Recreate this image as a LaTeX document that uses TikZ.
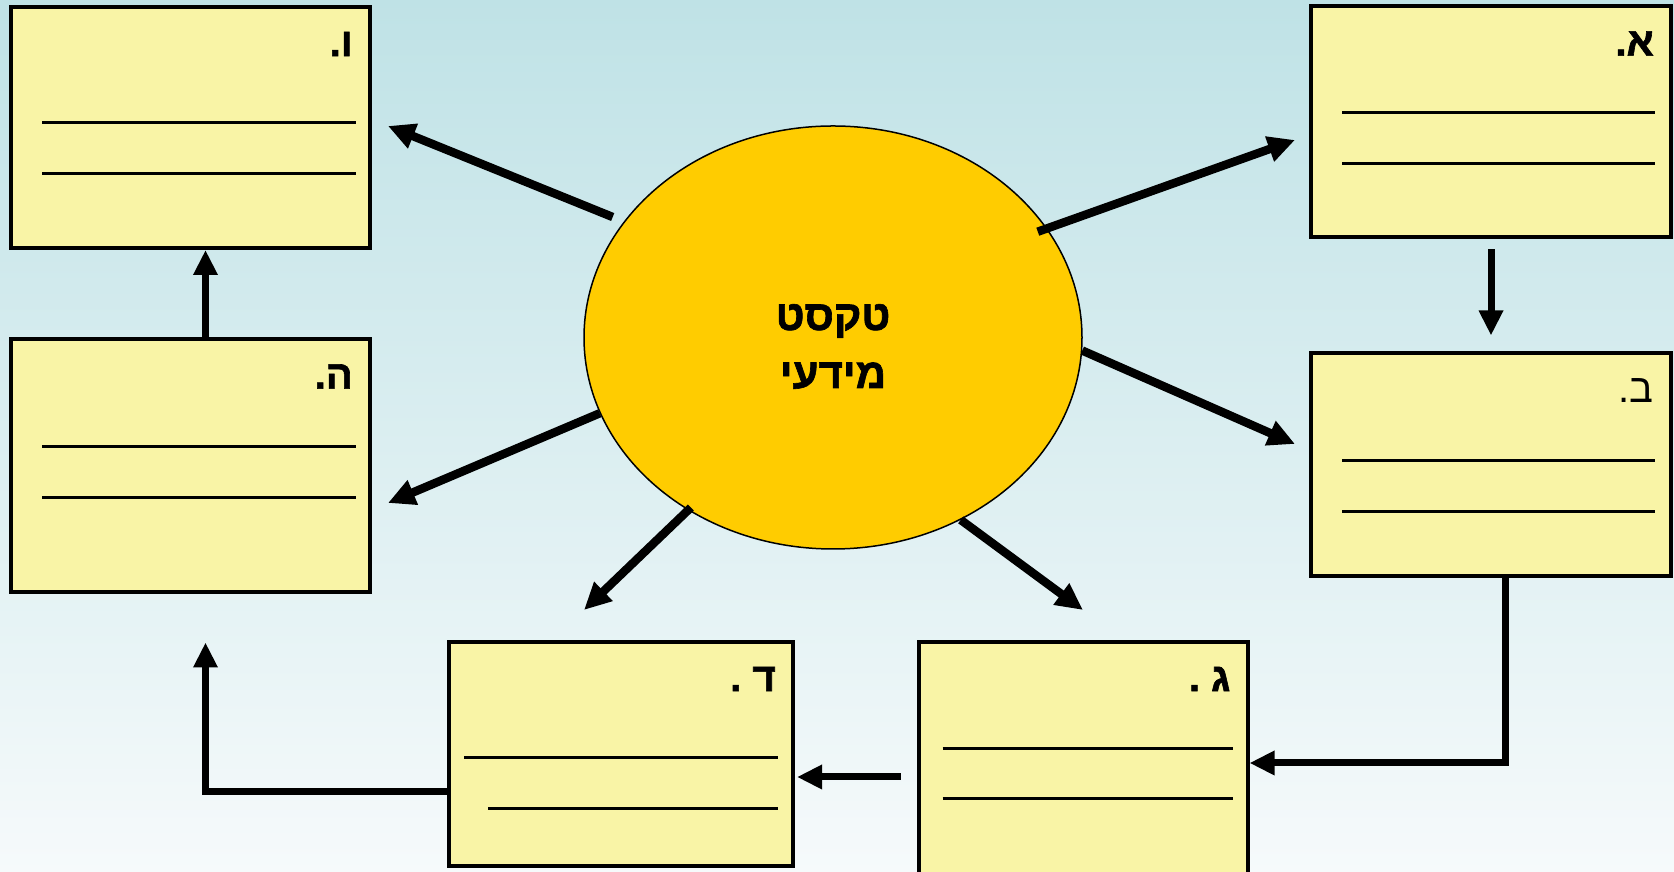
\documentclass[tikz,border=0pt]{standalone}
\usepackage{fontspec}
\setmainfont{Liberation Sans}
\newfontfamily\hebfont[Script=Hebrew, BoldFeatures={FakeBold=1.5}]{Liberation Sans}
\TeXXeTstate=1
\usetikzlibrary{arrows.meta, shapes.geometric}
\definecolor{sky top}{RGB}{191,226,230}
\definecolor{sky bottom}{RGB}{246,250,251}
\definecolor{card area}{RGB}{249,244,166}
\definecolor{sun area}{RGB}{255,204,0}
\tikzset{
  card/.style={draw, fill=card area, line width=4pt, inner sep=0pt},
  sun/.style={ellipse, draw, fill=sun area, line width=1.5pt, inner sep=0pt},
  tag/.style={anchor=east, inner sep=0pt, font=\hebfont\bfseries\fontsize{40}{40}\selectfont},
  writeline/.style={line width=3pt},
  edge/.style={-{Triangle[length=25pt,width=23pt]}, line width=7pt},
  ray/.style={-{Triangle[length=27pt,width=25pt]}, line width=8.5pt}
}

\begin{document}
\begin{tikzpicture}[x=1pt,y=1pt]
    \shade[top color=sky top, bottom color=sky bottom] (0,0) rectangle (1674,872);
    \useasboundingbox (0,0) rectangle (1674,872);
    \clip (0,0) rectangle (1674,872);
    \node[card, minimum width=359, minimum height=241] (vav) at (190.5,744.5) {};
    \node[card, minimum width=359, minimum height=253] (he) at (190.5,406) {};
    \node[card, minimum width=360, minimum height=231] (alef) at (1491,750) {};
    \node[card, minimum width=360, minimum height=223] (bet) at (1491,407) {};
    \node[card, minimum width=344, minimum height=224] (dalet) at (621,118) {};
    \node[card, minimum width=329, minimum height=242] (gimel) at (1083,109) {};
    \node[tag] (vavtag) at ([shift={(-19,-39)}]vav.north east) {\beginR ו.\endR};
    \node[tag] (hetag) at ([shift={(-19,-39)}]he.north east) {\beginR ה.\endR};
    \node[tag] (aleftag) at ([shift={(-19,-39)}]alef.north east) {\beginR א.\endR};
    \node[tag, font=\hebfont\fontsize{40}{40}\selectfont] (bettag) at ([shift={(-19,-39)}]bet.north east) {\beginR ב.\endR};
    \node[tag] (dalettag) at ([shift={(-19,-39)}]dalet.north east) {\beginR ד .\endR};
    \node[tag] (gimeltag) at ([shift={(-19,-39)}]gimel.north east) {\beginR ג .\endR};
    \foreach \card/\dy/\lx/\rx in {vav/118/33/16, vav/169/33/16, alef/108/33/18, alef/159/33/18,
        he/109/33/16, he/160/33/16, bet/109/33/18, bet/160/33/18,
        dalet/118/17/17, dalet/169/41/17, gimel/109/26/17, gimel/159/26/17}
      \draw[writeline] ([shift={(\lx,-\dy)}]\card.north west) -- ([shift={(-\rx,-\dy)}]\card.north east);
    \node[sun, minimum width=498, minimum height=423] (info) at (833,534.5) {};
    \node[align=center, font=\hebfont\bfseries\fontsize{42}{58}\selectfont] (infotext) at ([yshift=-9pt]info.center)
      {\beginR טקסט\endR\\\beginR מידעי\endR};
    \coordinate (vavend) at (388,746);
    \coordinate (heend) at (388,369);
    \coordinate (daletend) at (584,262);
    \coordinate (gimelend) at (1083,262);
    \coordinate (betend) at (1295,428);
    \coordinate (alefend) at (1295,732);
    \draw[ray, shorten <=12pt] (info.151) -- (vavend);
    \draw[ray] (info.198) -- (heend);
    \draw[ray, shorten <=-4pt] (info.230) -- (daletend);
    \draw[ray] (info.305) -- (gimelend);
    \draw[ray] (info.-3) -- (betend);
    \draw[ray, shorten <=-10pt] (info.27) -- (alefend);
    \draw[edge] ([xshift=15pt]he.north) -- ([xshift=15pt]vav.south);
    \draw[edge] ([yshift=-10pt]alef.south) -- ([yshift=16pt]bet.north);
    \draw[edge] ([xshift=14pt]bet.south) |- (gimel.east);
    \draw[edge] ([shift={(-16,-14)}]gimel.west) -- ([shift={(2,-14)}]gimel.west -| dalet.east);
    \draw[edge] ([yshift=-38pt]dalet.west) -| ([shift={(15,-48)}]he.south);
\end{tikzpicture}
\end{document}
